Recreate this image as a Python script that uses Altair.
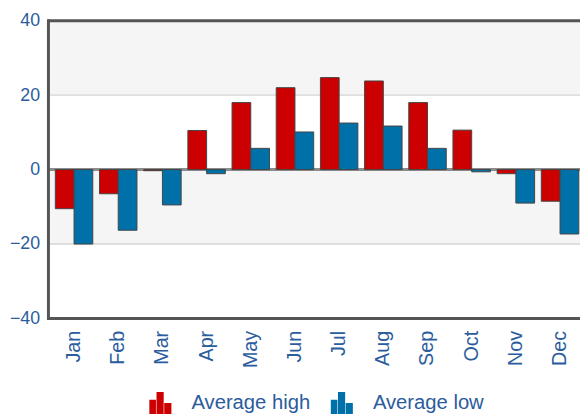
import altair as alt
import pandas as pd

months = ["Jan", "Feb", "Mar", "Apr", "May", "Jun", "Jul", "Aug", "Sep", "Oct", "Nov", "Dec"]
avg_high = [-10.5, -6.5, -0.3, 10.5, 18.0, 22.0, 24.7, 23.8, 18.0, 10.6, -1.1, -8.5]
avg_low = [-20.0, -16.3, -9.5, -1.1, 5.7, 10.1, 12.5, 11.7, 5.7, -0.6, -9.0, -17.3]
series_names = ["Average high", "Average low"]
series_colors = ["#cc0000", "#0070a8"]
y_ticks = [-40, -20, 0, 20, 40]
band_lo = [20, -20]
band_hi = [40, 0]
grid_values = [-20, 20]
border_values = [-40, 40]

W, H = 539, 302
LABEL_COLOR = "#2b5c9c"
FONT = "Liberation Sans"

rows = []
for m, h, l in zip(months, avg_high, avg_low):
    rows.append({"month": m, "series": series_names[0], "value": h})
    rows.append({"month": m, "series": series_names[1], "value": l})
df = pd.DataFrame(rows)

bands_df = pd.DataFrame({"value": band_lo, "value2": band_hi})
grid_df = pd.DataFrame({"value": grid_values})
zero_df = pd.DataFrame({"value": [0]})
border_df = pd.DataFrame({"value": border_values})

yscale = alt.Scale(domain=[-40, 40], nice=False, zero=False)
yaxis = alt.Axis(values=y_ticks, title=None, domain=False, ticks=False, grid=False,
                 labelFont=FONT, labelFontSize=18, labelColor=LABEL_COLOR, labelPadding=9)

def Y():
    return alt.Y("value:Q", scale=yscale, axis=yaxis)

bands = alt.Chart(bands_df).mark_rect(color="#f5f5f5").encode(
    y=Y(), y2="value2:Q", x=alt.value(0), x2=alt.value(W)
)
grid = alt.Chart(grid_df).mark_rule(color="#d4d4d4", strokeWidth=1.5).encode(
    y=Y(), x=alt.value(0), x2=alt.value(W)
)
zero = alt.Chart(zero_df).mark_rule(color="#8c8c8c", strokeWidth=3).encode(
    y=Y(), x=alt.value(0), x2=alt.value(W)
)

symbol_path = ("M-1,1 L-1,-0.3 L-0.4,-0.3 L-0.4,1 Z "
               "M-0.35,1 L-0.35,-1 L0.3,-1 L0.3,1 Z "
               "M0.35,1 L0.35,0 L1,0 L1,1 Z")

bars = alt.Chart(df).mark_bar(stroke="#444444", strokeWidth=1).encode(
    x=alt.X("month:N", sort=months,
            scale=alt.Scale(paddingInner=0.152, paddingOuter=0.0916, align=0.85),
            axis=alt.Axis(title=None, labelAngle=-90, domain=False, ticks=False, grid=False,
                          labelFont=FONT, labelFontSize=20, labelColor=LABEL_COLOR,
                          labelPadding=12)),
    xOffset=alt.XOffset("series:N", sort=series_names),
    y=Y(),
    color=alt.Color("series:N", sort=series_names,
                    scale=alt.Scale(domain=series_names, range=series_colors),
                    legend=alt.Legend(title=None, orient="none", direction="horizontal",
                                      legendX=102, legendY=376,
                                      symbolType=symbol_path, symbolSize=500,
                                      symbolStrokeWidth=0,
                                      labelFont=FONT, labelFontSize=20.5,
                                      labelColor=LABEL_COLOR, labelOffset=20,
                                      columnPadding=20)),
)

left_border = alt.Chart(zero_df).mark_rule(color="#555555", strokeWidth=3).encode(
    x=alt.value(0), y=alt.value(-1.5), y2=alt.value(H + 1.5)
)
tb_border = alt.Chart(border_df).mark_rule(color="#555555", strokeWidth=3).encode(
    y=Y(), x=alt.value(0), x2=alt.value(W)
)

chart = alt.layer(bands, grid, zero, bars, left_border, tb_border).properties(
    width=W, height=H,
    autosize=alt.AutoSizeParams(type="none"),
    padding={"left": 41, "top": 10, "right": 0, "bottom": 94},
).configure_view(stroke=None)

chart.save("out.html", embed_options={"renderer": "svg", "actions": False})
